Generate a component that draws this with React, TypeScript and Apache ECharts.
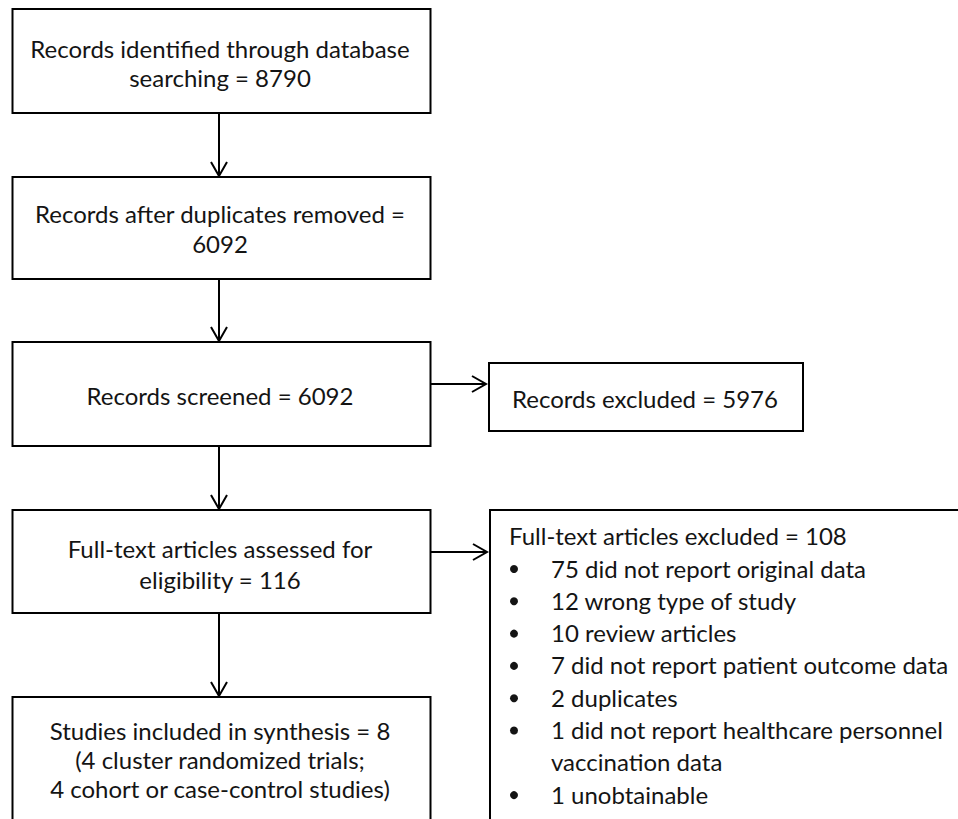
import React, { useEffect, useRef } from "react";
import * as echarts from "echarts";

// ---- content ----
const mainBoxLines: string[][] = [
  ["Records identified through database", "searching = 8790"],
  ["Records after duplicates removed =", "6092"],
  ["Records screened = 6092"],
  ["Full-text articles assessed for", "eligibility = 116"],
  ["Studies included in synthesis = 8", "(4 cluster randomized trials;", "4 cohort or case-control studies)"],
];
const screenedExcluded = "Records excluded = 5976";
const fullTextExcludedTitle = "Full-text articles excluded = 108";
const fullTextExcludedReasons: string[][] = [
  ["75 did not report original data"],
  ["12 wrong type of study"],
  ["10 review articles"],
  ["7 did not report patient outcome data"],
  ["2 duplicates"],
  ["1 did not report healthcare personnel", "vaccination data"],
  ["1 unobtainable"],
];

// ---- layout ----
const LEFT_X = 12.5;
const LEFT_W = 418;
const ARROW_X = 219;
const TEXT_CX = 220;
const boxTops = [9, 177, 342, 510, 697];
const boxBottoms = [113, 279, 446, 613, 830];
const lineYs = [[48, 77], [213, 243], [395], [548, 579], [730, 759, 788]];
const FONT = "24px Lato, 'Open Sans', sans-serif";
const INK = "#141414";

export default function App() {
  const ref = useRef<HTMLDivElement>(null);
  useEffect(() => {
    if (!ref.current) return;
    const chart = echarts.init(ref.current, undefined, { renderer: "svg" });
    const els: any[] = [];
    const line = (x1: number, y1: number, x2: number, y2: number) =>
      els.push({ type: "line", shape: { x1, y1, x2, y2 }, style: { stroke: "#000", lineWidth: 2 } });
    const rect = (x: number, y: number, w: number, h: number) =>
      els.push({ type: "rect", shape: { x, y, width: w, height: h }, style: { fill: "#fff", stroke: "#000", lineWidth: 2 } });
    const text = (t: string, x: number, y: number, align: string) =>
      els.push({
        type: "text",
        style: { text: t, x, y, font: FONT, fill: INK, align, verticalAlign: "middle", textAlign: align, textVerticalAlign: "middle" },
      });
    const arrowDown = (x: number, y1: number, y2: number) => {
      line(x, y1, x, y2);
      els.push({ type: "polyline", shape: { points: [[x - 8, y2 - 14], [x, y2], [x + 8, y2 - 14]] }, style: { stroke: "#000", lineWidth: 2, fill: null } });
    };
    const arrowRight = (y: number, x1: number, x2: number) => {
      line(x1, y, x2, y);
      els.push({ type: "polyline", shape: { points: [[x2 - 14, y - 8], [x2, y], [x2 - 14, y + 8]] }, style: { stroke: "#000", lineWidth: 2, fill: null } });
    };

    mainBoxLines.forEach((lines, i) => {
      rect(LEFT_X, boxTops[i], LEFT_W, boxBottoms[i] - boxTops[i]);
      lines.forEach((t, j) => text(t, TEXT_CX, lineYs[i][j], "center"));
      if (i < mainBoxLines.length - 1) arrowDown(ARROW_X, boxBottoms[i], boxTops[i + 1] - 1);
    });

    // screened -> excluded
    arrowRight(384, LEFT_X + LEFT_W, 486);
    rect(489, 363, 314, 68);
    text(screenedExcluded, 645, 398, "center");

    // full text -> excluded
    arrowRight(552, LEFT_X + LEFT_W, 487);
    rect(490, 510, 480, 330);
    text(fullTextExcludedTitle, 509, 535, "left");
    let y = 568;
    fullTextExcludedReasons.forEach((lines) => {
      els.push({ type: "circle", shape: { cx: 514, cy: y + 1, r: 4 }, style: { fill: INK } });
      lines.forEach((t) => {
        text(t, 551, y, "left");
        y += 32.3;
      });
    });

    chart.setOption({ animation: false, graphic: { elements: els } });
    return () => chart.dispose();
  }, []);
  return <div ref={ref} style={{ position: "fixed", left: 0, top: 0, width: 958, height: 819, background: "#fff" }} />;
}
